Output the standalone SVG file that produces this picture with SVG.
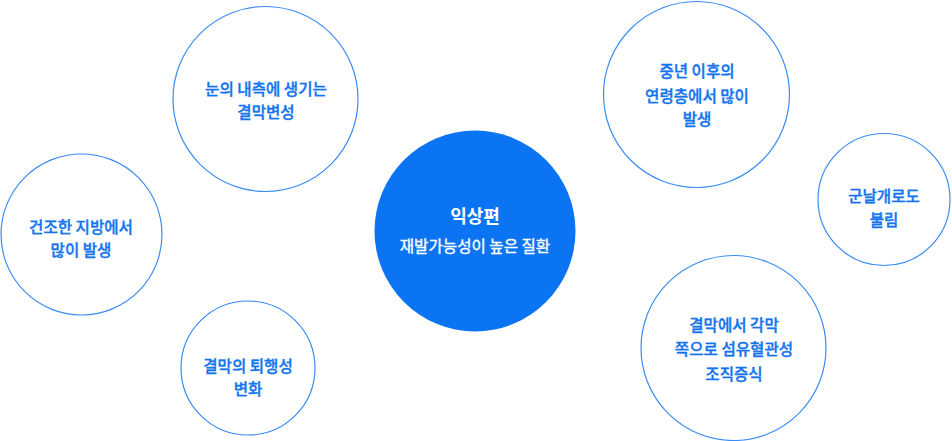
<svg xmlns="http://www.w3.org/2000/svg" width="952" height="441" viewBox="0 0 952 441">
<style>
.c{fill:#ffffff;stroke:#3a8cf4;stroke-width:1.2}
.t{font-family:"Noto Sans CJK KR","Noto Sans",sans-serif;font-size:15.6px;font-weight:500;fill:#1274ee;stroke:#1274ee;stroke-width:0.35;text-anchor:middle;dominant-baseline:central}
.w{font-family:"Noto Sans CJK KR","Noto Sans",sans-serif;fill:#ffffff;text-anchor:middle;dominant-baseline:central}
</style>
<rect width="952" height="441" fill="#ffffff"/>
<g id="connectors"></g>
<g id="n-topleft">
<circle class="c" cx="265.5" cy="99" r="92.5"/>
<text class="t" x="266" y="88">눈의 내측에 생기는</text>
<text class="t" x="266" y="111">결막변성</text>
</g>
<g id="n-left">
<circle class="c" cx="81.5" cy="234.5" r="80.5"/>
<text class="t" x="81" y="226">건조한 지방에서</text>
<text class="t" x="81" y="249">많이 발생</text>
</g>
<g id="n-bottomleft">
<circle class="c" cx="248" cy="368" r="67"/>
<text class="t" x="248" y="365">결막의 퇴행성</text>
<text class="t" x="248" y="388">변화</text>
</g>
<g id="n-center">
<circle cx="475" cy="231" r="100.5" fill="#0a74f2"/>
<text class="w" x="475" y="215" font-size="18" font-weight="700">익상편</text>
<text class="w" x="475" y="245" font-size="15.6" stroke="#ffffff" stroke-width="0.35">재발가능성이 높은 질환</text>
</g>
<g id="n-topright">
<circle class="c" cx="696.5" cy="94.5" r="93"/>
<text class="t" x="697" y="70">중년 이후의</text>
<text class="t" x="697" y="95">연령층에서 많이</text>
<text class="t" x="697" y="118">발생</text>
</g>
<g id="n-right">
<circle class="c" cx="884" cy="199.5" r="66"/>
<text class="t" x="884" y="195">군날개로도</text>
<text class="t" x="884" y="219">불림</text>
</g>
<g id="n-bottomright">
<circle class="c" cx="733.5" cy="348" r="92.5"/>
<text class="t" x="734" y="324">결막에서 각막</text>
<text class="t" x="734" y="348">쪽으로 섬유혈관성</text>
<text class="t" x="734" y="373">조직증식</text>
</g>
</svg>
